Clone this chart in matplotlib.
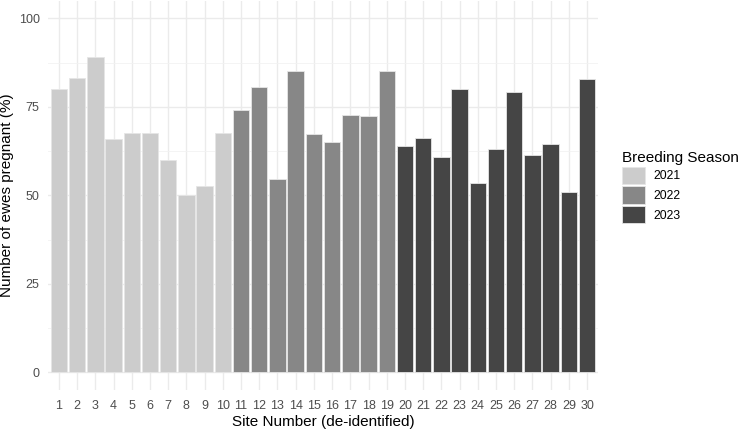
import matplotlib
matplotlib.use("Agg")
import matplotlib.pyplot as plt
from matplotlib.patches import Patch
from matplotlib.ticker import MultipleLocator

sites = list(range(1, 31))
pregnant = [80, 83, 89, 66, 67.5, 67.5, 60, 50, 52.6, 67.5,
            74, 80.7, 54.5, 85, 67.2, 65, 72.8, 72.5, 85,
            63.8, 66.3, 60.7, 79.9, 53.4, 63, 79.3, 61.5, 64.6, 50.9, 82.9]
season = ["2021"] * 10 + ["2022"] * 9 + ["2023"] * 11
seasons = ["2021", "2022", "2023"]
season_colors = {"2021": "#CCCCCC", "2022": "#878787", "2023": "#454545"}

plt.rcParams['font.family'] = ['Liberation Sans', 'DejaVu Sans']

W, H = 743, 432
fig = plt.figure(figsize=(W / 100, H / 100), dpi=100)
left, right, top, bottom = 48, 598, 0.6, 390
ax = fig.add_axes([left / W, 1 - bottom / H, (right - left) / W, (bottom - top) / H])

ax.bar(sites, pregnant, width=0.9, color=[season_colors[s] for s in season],
       edgecolor="#E6E6E6", linewidth=0.6, zorder=3)

ax.set_xlim(0.4, 30.6)
ax.set_ylim(-5, 105)
ax.set_xticks(sites)
ax.set_xticklabels([str(s) for s in sites])
ax.set_yticks([0, 25, 50, 75, 100])
ax.yaxis.set_minor_locator(MultipleLocator(12.5))
ax.grid(True, which="major", color="#EBEBEB", linewidth=1.0, zorder=0)
ax.grid(True, which="minor", axis="y", color="#F2F2F2", linewidth=0.6, zorder=0)
for sp in ax.spines.values():
    sp.set_visible(False)
ax.tick_params(axis="both", which="both", length=0, labelsize=9, labelcolor="#4D4D4D")
ax.tick_params(axis="x", pad=7)
ax.tick_params(axis="y", pad=6)
ax.set_xlabel("Site Number (de-identified)", fontsize=11, color="black", labelpad=2.5)
ax.set_ylabel("Number of ewes pregnant (%)", fontsize=11, color="black", labelpad=3)

handles = [Patch(facecolor=season_colors[s], edgecolor="#E6E6E6", linewidth=0.6, label=s) for s in seasons]
leg = fig.legend(handles=handles, title="Breeding Season", loc="upper left",
                 bbox_to_anchor=(617 / W, 1 - 146 / H), frameon=False,
                 fontsize=8.8, title_fontsize=11, handlelength=1.85, handleheight=1.85,
                 labelspacing=0.15, handletextpad=0.7, borderaxespad=0)
leg._legend_box.align = "left"

fig.savefig("out.png", dpi=100)
